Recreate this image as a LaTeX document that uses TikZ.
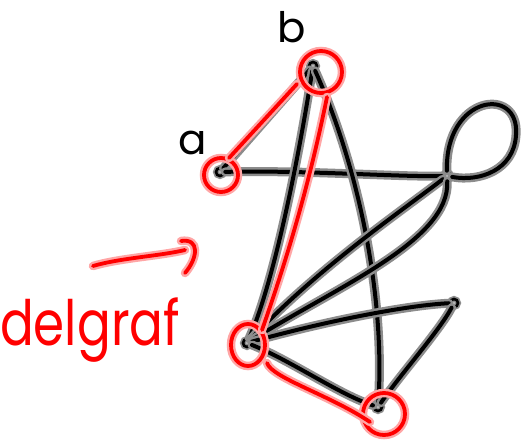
\documentclass[tikz,border=0pt]{standalone}
\usepackage{fontspec}
\setmainfont{Poppins}
\usetikzlibrary{shapes.geometric}
\begin{document}
\begin{tikzpicture}[x=1pt,y=-1pt,
  edge/.style={line width=4pt, black, line cap=round, line join=round,
    preaction={draw=black!45, line width=9pt, line cap=round}},
  redl/.style={line width=3.8pt, red, line cap=round, line join=round,
    preaction={draw=red!35, line width=8.5pt, line cap=round}},
  vtx/.style={circle, draw=black, line width=2.6pt, inner sep=0pt, minimum size=8pt,
    preaction={draw=black!45, line width=6pt}},
  redcirc/.style={circle, draw=red, line width=3.8pt, inner sep=0pt,
    preaction={draw=red!35, line width=8.5pt}},
  redell/.style={ellipse, draw=red, line width=3.8pt, inner sep=0pt,
    preaction={draw=red!35, line width=8.5pt}},
  lbl/.style={inner sep=0pt, font=\fontsize{42}{42}\selectfont},
  redtxt/.style={inner sep=0pt, text=red, font=\fontsize{50}{50}\selectfont}
]
\useasboundingbox (0,0) rectangle (521,441);

% vertices
\node[vtx] (a) at (220,172) {};
\node[vtx] (b) at (313,66) {};
\node[vtx] (R) at (447,176) {};
\node[vtx] (M) at (454,303) {};
\node[vtx] (L) at (247,343) {};
\node[vtx] (B) at (378,407) {};

% labels
\node[lbl] (lb) at (292,27) {b};
\node[lbl] (la) at (193,143) {a};

% black edges
\draw[edge] (a) -- (b);
\draw[edge] (a) .. controls (300,170) and (400,177) .. (R);
\draw[edge] (b) .. controls (300,150) and (275,280) .. (L);
\draw[edge] (b) .. controls (360,170) and (385,300) .. (B);
\draw[edge] (R) .. controls (400,212) and (318,268) .. (L);
\draw[edge] (R) .. controls (450,240) and (340,285) .. (L);
\draw[edge] (L) .. controls (330,320) and (410,305) .. (M);
\draw[edge] (M) .. controls (440,330) and (400,375) .. (B);
\draw[edge] (L) .. controls (290,360) and (340,395) .. (B);
\draw[edge] (R) .. controls (445,95) and (520,85) .. (516,135) .. controls (514,170) and (480,182) .. (R);

% red circles
\node[redcirc, minimum size=34pt] (ca) at (221,175) {};
\node[redcirc, minimum size=42pt] (cb) at (321,72) {};
\node[redell, minimum width=34pt, minimum height=42pt] (cL) at (248,345) {};
\node[redcirc, minimum size=42pt] (cB) at (384,414) {};

% red highlighted path
\coordinate (r1) at (229,158);
\coordinate (r2) at (297,84);
\coordinate (r3) at (327,97);
\coordinate (r4) at (262,330);
\coordinate (r5) at (267,363);
\coordinate (r6) at (370,422);
\draw[redl] (r1) -- (r2);
\draw[redl] (r3) .. controls (310,180) and (290,250) .. (r4);
\draw[redl] (r5) .. controls (272,378) and (330,395) .. (r6);

% red arrow
\coordinate (ar1) at (93,266);
\coordinate (ar2) at (185,250);
\coordinate (ah1) at (181,241);
\coordinate (ah2) at (185,273);
\draw[redl] (ar1) .. controls (120,258) and (160,256) .. (ar2);
\draw[redl] (ah1) .. controls (200,238) and (198,258) .. (ah2);

% text
\node[redtxt, anchor=base] (txt) at (90,345) {\scalebox{1}[1.25]{delgraf}};
\end{tikzpicture}
\end{document}
